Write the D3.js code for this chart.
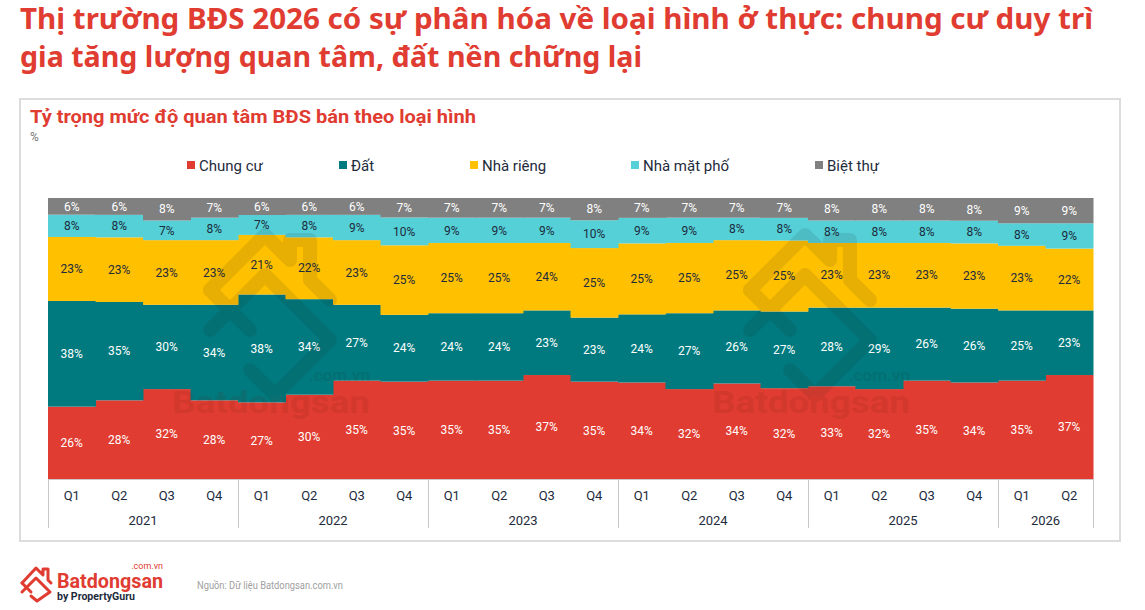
<!DOCTYPE html>
<html>
<head>
<meta charset="utf-8">
<script src="https://cdn.jsdelivr.net/npm/d3@7"></script>
<style>
  html, body { margin: 0; padding: 0; background: #fff; }
  svg { display: block; }
</style>
</head>
<body>
<svg id="chart" width="1145" height="610"></svg>
<script>
// ---------------- DATA ----------------
const quarters = ["Q1","Q2","Q3","Q4","Q1","Q2","Q3","Q4","Q1","Q2","Q3","Q4","Q1","Q2","Q3","Q4","Q1","Q2","Q3","Q4","Q1","Q2"];
const years = ["2021","2021","2021","2021","2022","2022","2022","2022","2023","2023","2023","2023","2024","2024","2024","2024","2025","2025","2025","2025","2026","2026"];
const seriesNames = ["Chung cư", "Đất", "Nhà riêng", "Nhà mặt phố", "Biệt thự"];
const chungCu  = [26,28,32,28,27,30,35,35,35,35,37,35,34,32,34,32,33,32,35,34,35,37];
const dat      = [38,35,30,34,38,34,27,24,24,24,23,23,24,27,26,27,28,29,26,26,25,23];
const nhaRieng = [23,23,23,23,21,22,23,25,25,25,24,25,25,25,25,25,23,23,23,23,23,22];
const matPho   = [8,8,7,8,7,8,9,10,9,9,9,10,9,9,8,8,8,8,8,8,8,9];
const bietThu  = [6,6,8,7,6,6,6,7,7,7,7,8,7,7,7,7,8,8,8,8,9,9];
const titleLines = ["Thị trường BĐS 2026 có sự phân hóa về loại hình ở thực: chung cư duy trì",
                    "gia tăng lượng quan tâm, đất nền chững lại"];
const subtitle = "Tỷ trọng mức độ quan tâm BĐS bán theo loại hình";
const unitLabel = "%";
const sourceText = "Nguồn: Dữ liệu Batdongsan.com.vn";

// ---------------- STYLE ----------------
const colors = ["#E03C31", "#007A7E", "#FFC000", "#54D0D6", "#808080"];
const labelColors = ["#ffffff", "#ffffff", "#1e2b3c", "#1e2b3c", "#ffffff"];
const RED = "#E03C31";
const DARK = "#1e2b3c";

const svg = d3.select("#chart");

// Title
svg.append("text").attr("x", 20).attr("y", 29)
  .attr("font-family", "'Noto Sans', 'Open Sans', sans-serif").attr("font-weight", 700)
  .attr("font-size", 28).attr("fill", RED)
  .attr("textLength", 1073).attr("lengthAdjust", "spacingAndGlyphs")
  .text(titleLines[0]);
svg.append("text").attr("x", 20).attr("y", 67)
  .attr("font-family", "'Noto Sans', 'Open Sans', sans-serif").attr("font-weight", 700)
  .attr("font-size", 28).attr("fill", RED)
  .attr("textLength", 622).attr("lengthAdjust", "spacingAndGlyphs")
  .text(titleLines[1]);

// Chart box
svg.append("rect").attr("x", 20).attr("y", 99).attr("width", 1100).attr("height", 442)
  .attr("fill", "none").attr("stroke", "#dcdcdc").attr("stroke-width", 2);

// Subtitle
svg.append("text").attr("x", 30).attr("y", 123)
  .attr("font-family", "Roboto, sans-serif").attr("font-weight", 700)
  .attr("font-size", 19).attr("fill", RED)
  .attr("textLength", 446).attr("lengthAdjust", "spacingAndGlyphs")
  .text(subtitle);
svg.append("text").attr("x", 30).attr("y", 141)
  .attr("font-family", "Roboto, sans-serif").attr("font-size", 12).attr("fill", "#777")
  .text(unitLabel);

// Legend
const legendX = [187, 339, 470, 631, 815];
const legend = svg.append("g");
seriesNames.forEach((name, i) => {
  legend.append("rect").attr("x", legendX[i]).attr("y", 161).attr("width", 8).attr("height", 8)
    .attr("fill", colors[i]);
  legend.append("text").attr("x", legendX[i] + 12).attr("y", 171)
    .attr("font-family", "Roboto, sans-serif").attr("font-size", 15).attr("fill", DARK)
    .text(name);
});

// Data table
const seriesArrays = [chungCu, dat, nhaRieng, matPho, bietThu];
const table = quarters.map((q, i) => {
  const row = { idx: i, q, year: years[i] };
  seriesNames.forEach((s, k) => row[s] = seriesArrays[k][i]);
  return row;
});

const stack = d3.stack().keys(seriesNames).offset(d3.stackOffsetExpand);
const stacked = stack(table);

const x = d3.scaleBand().domain(table.map(d => d.idx)).range([48, 1093]).padding(0);
const y = d3.scaleLinear().domain([0, 1]).range([479, 198]);

const plot = svg.append("g");
stacked.forEach((layer, k) => {
  plot.append("g").selectAll("rect").data(layer).join("rect")
    .attr("x", d => x(d.data.idx))
    .attr("width", x.bandwidth() + 0.5)
    .attr("y", d => y(d[1]))
    .attr("height", d => y(d[0]) - y(d[1]))
    .attr("fill", colors[k]);
});

// Watermarks
function watermark(cx, textX) {
  const g = svg.append("g").attr("opacity", 0.1);
  const gl = g.append("g").attr("transform", `translate(${cx},295)`)
    .attr("fill", "none").attr("stroke", "#222").attr("stroke-width", 14)
    .attr("stroke-linejoin", "round").attr("stroke-linecap", "round");
  gl.append("path").attr("d", "M-60,-5 L-5,-60 L20,-35 L20,-55 L40,-55 L40,-15 L60,5");
  gl.append("path").attr("d", "M-60,-5 L-20,35");
  gl.append("path").attr("d", "M-60,35 L-5,-20 L60,45 L5,100 L-20,75");
  g.append("text").attr("x", textX).attr("y", 413)
    .attr("font-family", "Roboto, sans-serif").attr("font-weight", 700)
    .attr("font-size", 32).attr("fill", "#6b1a14")
    .attr("textLength", 198).attr("lengthAdjust", "spacingAndGlyphs")
    .text("Batdongsan");
  g.append("text").attr("x", textX + 198).attr("y", 381).attr("text-anchor", "end")
    .attr("font-family", "Roboto, sans-serif").attr("font-weight", 700)
    .attr("font-size", 17).attr("fill", "#222").text(".com.vn");
}
watermark(270, 172);
watermark(810, 712);

// Data labels
stacked.forEach((layer, k) => {
  plot.append("g").selectAll("text").data(layer).join("text")
    .attr("x", d => x(d.data.idx) + x.bandwidth() / 2)
    .attr("y", d => (y(d[0]) + y(d[1])) / 2)
    .attr("dy", "0.35em")
    .attr("text-anchor", "middle")
    .attr("font-family", "Roboto, sans-serif").attr("font-size", 12)
    .attr("fill", labelColors[k])
    .text(d => d.data[seriesNames[k]] + "%");
});

// X axis
const axisG = svg.append("g");
axisG.append("line").attr("x1", 48).attr("x2", 1093).attr("y1", 479.5).attr("y2", 479.5)
  .attr("stroke", "#c8c8c8");
axisG.selectAll("text.q").data(table).join("text").attr("class", "q")
  .attr("x", d => x(d.idx) + x.bandwidth() / 2).attr("y", 500)
  .attr("text-anchor", "middle").attr("font-family", "Roboto, sans-serif")
  .attr("font-size", 13).attr("fill", DARK).text(d => d.q);

const yearGroups = d3.groups(table, d => d.year).map(([yr, rows]) => ({
  yr, x0: x(rows[0].idx), x1: x(rows[rows.length - 1].idx) + x.bandwidth()
}));
const seps = [yearGroups[0].x0].concat(yearGroups.map(g => g.x1));
axisG.selectAll("line.sep").data(seps).join("line").attr("class", "sep")
  .attr("x1", d => Math.round(d) + 0.5).attr("x2", d => Math.round(d) + 0.5)
  .attr("y1", 479).attr("y2", 528).attr("stroke", "#c8c8c8");
axisG.selectAll("text.yr").data(yearGroups).join("text").attr("class", "yr")
  .attr("x", d => (d.x0 + d.x1) / 2).attr("y", 525)
  .attr("text-anchor", "middle").attr("font-family", "Roboto, sans-serif")
  .attr("font-size", 13).attr("fill", DARK).text(d => d.yr);

// Footer logo
const logo = svg.append("g");
const icon = logo.append("g").attr("fill", "none").attr("stroke", RED).attr("stroke-width", 3)
  .attr("stroke-linejoin", "round").attr("stroke-linecap", "round");
icon.append("path").attr("d", "M22,583 L36,568 L43,575 L43,569 L48,569 L48,580 L51,583");
icon.append("path").attr("d", "M22,583 L31,592");
icon.append("path").attr("d", "M22,592 L36,578 L50,592 L37,601 L31,596");
logo.append("text").attr("x", 57).attr("y", 588)
  .attr("font-family", "Roboto, sans-serif").attr("font-weight", 700).attr("font-size", 20)
  .attr("fill", RED).attr("textLength", 106).attr("lengthAdjust", "spacingAndGlyphs")
  .text("Batdongsan");
logo.append("text").attr("x", 163).attr("y", 569).attr("text-anchor", "end")
  .attr("font-family", "Roboto, sans-serif").attr("font-size", 9).attr("fill", RED)
  .text(".com.vn");
logo.append("text").attr("x", 57).attr("y", 600)
  .attr("font-family", "Roboto, sans-serif").attr("font-weight", 700).attr("font-size", 10)
  .attr("fill", "#1e2b3c").attr("textLength", 78).attr("lengthAdjust", "spacingAndGlyphs")
  .text("by PropertyGuru");
svg.append("text").attr("x", 197).attr("y", 589)
  .attr("font-family", "Roboto, sans-serif").attr("font-size", 10).attr("fill", "#a0a0a0")
  .attr("textLength", 146).attr("lengthAdjust", "spacingAndGlyphs")
  .text(sourceText);
</script>
</body>
</html>
